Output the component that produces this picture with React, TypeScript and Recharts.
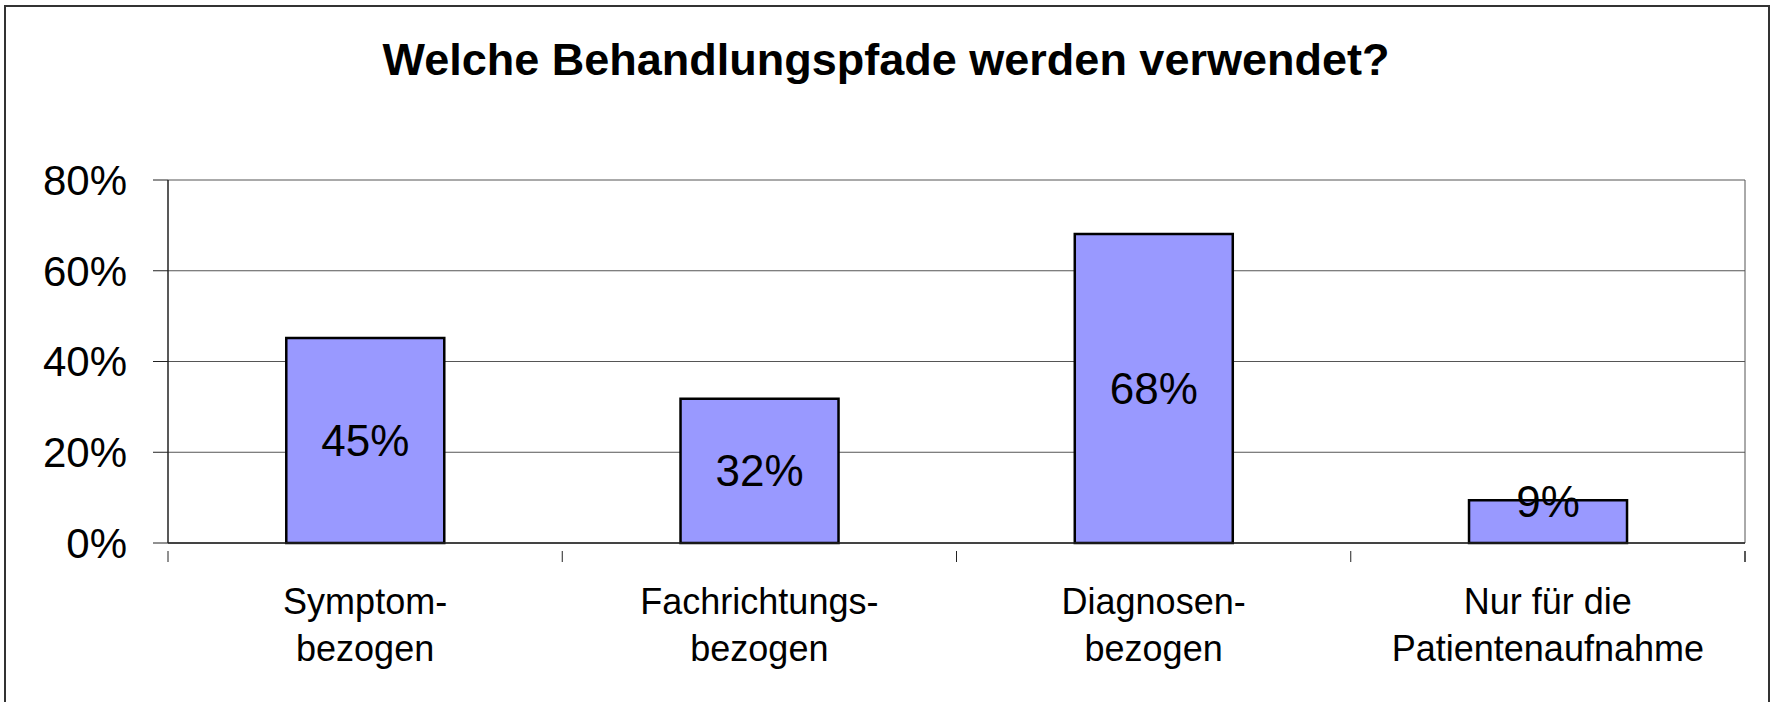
import * as React from "react";
import { BarChart, Bar, XAxis, YAxis, CartesianGrid, LabelList } from "recharts";

const categories = [
  ["Symptom-", "bezogen"],
  ["Fachrichtungs-", "bezogen"],
  ["Diagnosen-", "bezogen"],
  ["Nur für die", "Patientenaufnahme"],
];
const shares = [45.2, 31.8, 68.1, 9.4];
const yTicks = [0, 20, 40, 60, 80];

const data = categories.map((c, i) => ({ name: c.join(" "), lines: c, value: shares[i] }));

const W = 1772;
const H = 702;
const FONT = "'Liberation Sans', Arial, sans-serif";
const margin = { top: 180, right: 27, bottom: 59, left: 8 };
const Y_AXIS_W = 160;
const X_AXIS_H = 100;
const plotW = W - margin.left - Y_AXIS_W - margin.right;
const band = plotW / categories.length;

// labels centred under each bar, tick marks on the category boundaries
function CategoryTick(props: any) {
  const { x, y, payload, index } = props;
  const lines: string[] = data[index]?.lines ?? [String(payload.value)];
  const left = x - band / 2;
  const right = x + band / 2;
  return (
    <g>
      <line x1={left} x2={left} y1={y} y2={y + 11} stroke="#222" strokeWidth={1} />
      {index === categories.length - 1 && (
        <line x1={right} x2={right} y1={y} y2={y + 11} stroke="#222" strokeWidth={1.5} />
      )}
      <text x={x} y={y + 63} textAnchor="middle" fontSize={36} fontFamily={FONT} fill="#000">
        {lines.map((l, i) => (
          <tspan key={i} x={x} dy={i === 0 ? 0 : 47}>
            {l}
          </tspan>
        ))}
      </text>
    </g>
  );
}

function ValueLabel(props: any) {
  const { x, y, width, height, value } = props;
  const cy = height < 60 ? y + 1 : y + height / 2;
  return (
    <text
      x={x + width / 2}
      y={cy}
      textAnchor="middle"
      dominantBaseline="central"
      fontSize={44}
      fontFamily={FONT}
      fill="#000"
    >
      {Math.round(value)}%
    </text>
  );
}

export default function App() {
  return (
    <div style={{ position: "absolute", left: 0, top: 0, width: W, height: H, background: "#fff", overflow: "hidden" }}>
      <div
        style={{
          position: "absolute",
          left: 4,
          top: 5,
          width: 1762,
          height: 720,
          border: "2px solid #333",
          borderBottom: "none",
        }}
      />
      <div
        style={{
          position: "absolute",
          left: 0,
          top: 37,
          width: W,
          textAlign: "center",
          fontFamily: FONT,
          fontWeight: "bold",
          fontSize: 45,
          lineHeight: "45px",
          color: "#000",
        }}
      >
        Welche Behandlungspfade werden verwendet?
      </div>
      <div style={{ position: "absolute", left: 0, top: 0 }}>
        <BarChart width={W} height={H} data={data} margin={margin} barCategoryGap="30%">
          <CartesianGrid
            stroke="#555"
            strokeWidth={1}
            verticalCoordinatesGenerator={({ offset }: any) => [offset.left + offset.width]}
          />
          <XAxis
            dataKey="name"
            interval={0}
            height={X_AXIS_H}
            tickLine={false}
            axisLine={{ stroke: "#222", strokeWidth: 1.5 }}
            tick={<CategoryTick />}
          />
          <YAxis
            width={Y_AXIS_W}
            domain={[0, 80]}
            ticks={yTicks}
            tickFormatter={(v) => `${v}%`}
            tickSize={15}
            tickMargin={26}
            axisLine={{ stroke: "#222", strokeWidth: 1.5 }}
            tickLine={{ stroke: "#222" }}
            tick={{ fontSize: 42, fill: "#000", fontFamily: FONT }}
          />
          <Bar dataKey="value" fill="#9999FF" stroke="#000" strokeWidth={2.5} isAnimationActive={false}>
            <LabelList dataKey="value" content={<ValueLabel />} />
          </Bar>
        </BarChart>
      </div>
    </div>
  );
}
